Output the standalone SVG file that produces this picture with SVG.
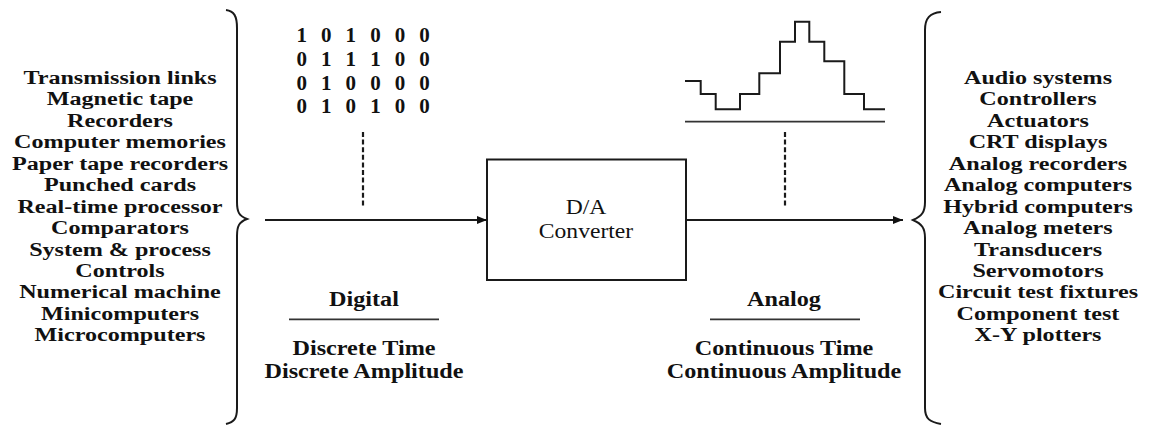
<svg xmlns="http://www.w3.org/2000/svg" width="1152" height="430" viewBox="0 0 1152 430">
  <style>
    .lbl { font-family: "Liberation Serif", "Times New Roman", serif; font-weight: bold; font-size: 19px; fill: #111; text-anchor: middle; }
    .cap { font-family: "Liberation Serif", "Times New Roman", serif; font-weight: bold; font-size: 20px; fill: #111; text-anchor: middle; }
    .reg { font-family: "Liberation Serif", "Times New Roman", serif; font-size: 20px; fill: #111; text-anchor: middle; }
    .bits { font-family: "Liberation Serif", "Times New Roman", serif; font-weight: bold; font-size: 21px; fill: #111; letter-spacing: 4.4px; }
    .ln { stroke: #1a1a1a; stroke-width: 2; fill: none; }
    .thin { stroke: #333; stroke-width: 1.8; fill: none; }
    .dash { stroke: #1a1a1a; stroke-width: 2.2; stroke-dasharray: 5 2.6; fill: none; }
  </style>
  <defs>
    <marker id="arrow" viewBox="0 0 10 8" refX="10" refY="4" markerWidth="11" markerHeight="8" markerUnits="userSpaceOnUse" orient="auto">
      <path d="M0,0 L10,4 L0,8 Z" fill="#111"/>
    </marker>
  </defs>
  <rect width="1152" height="430" fill="#fff"/>

  <!-- digital sources -->
  <g id="sources">
    <g transform="translate(120 0) scale(1.27 1)">
      <text class="lbl" x="0" y="84">Transmission links</text>
      <text class="lbl" x="0" y="105.5">Magnetic tape</text>
      <text class="lbl" x="0" y="126.9">Recorders</text>
      <text class="lbl" x="0" y="148.4">Computer memories</text>
      <text class="lbl" x="0" y="169.8">Paper tape recorders</text>
      <text class="lbl" x="0" y="191.3">Punched cards</text>
      <text class="lbl" x="0" y="212.7">Real-time processor</text>
      <text class="lbl" x="0" y="234.2">Comparators</text>
      <text class="lbl" x="0" y="255.6">System &amp; process</text>
      <text class="lbl" x="0" y="277.1">Controls</text>
      <text class="lbl" x="0" y="298.5">Numerical machine</text>
      <text class="lbl" x="0" y="320">Minicomputers</text>
      <text class="lbl" x="0" y="341.4">Microcomputers</text>
    </g>
    <path class="ln" d="M226,10 C234,11 237,16 237,28 L237,202 C237,212 239,216 247,219 C239,222 237,226 237,236 L237,408 C237,419 234,422 226,424"/>
  </g>

  <!-- digital word sample -->
  <g id="digital-code">
    <text class="bits" x="296.5" y="41.7">1 0 1 0 0 0</text>
    <text class="bits" x="296.5" y="65.6">0 1 1 1 0 0</text>
    <text class="bits" x="296.5" y="89.5">0 1 0 0 0 0</text>
    <text class="bits" x="296.5" y="113.4">0 1 0 1 0 0</text>
  </g>

  <!-- digital signal description -->
  <g id="digital-label">
    <g transform="translate(364 0) scale(1.21 1)">
      <text class="cap" x="0" y="306">Digital</text>
      <text class="cap" x="0" y="355">Discrete Time</text>
      <text class="cap" x="0" y="378">Discrete Amplitude</text>
    </g>
    <line class="thin" x1="289" y1="319.3" x2="439" y2="319.3"/>
  </g>

  <!-- converter block -->
  <g id="converter">
    <rect class="ln" x="487" y="159.5" width="199" height="120.5"/>
    <g transform="translate(586 0) scale(1.18 1)">
      <text class="reg" x="0" y="214.5">D/A</text>
      <text class="reg" x="0" y="238">Converter</text>
    </g>
  </g>

  <!-- staircase analog output -->
  <g id="analog-wave">
    <path class="ln" d="M685,81 H700.7 V94 H715.7 V109.3 H740 V94 H759.3 V73.3 H780 V41.7 H795 V21.7 H809.3 V41.7 H824.3 V61.3 H844.3 V94 H864 V109.3 H885"/>
    <line class="thin" x1="685" y1="121.7" x2="885" y2="121.7"/>
  </g>

  <!-- analog signal description -->
  <g id="analog-label">
    <g transform="translate(784 0) scale(1.21 1)">
      <text class="cap" x="0" y="306">Analog</text>
      <text class="cap" x="0" y="355">Continuous Time</text>
      <text class="cap" x="0" y="378">Continuous Amplitude</text>
    </g>
    <line class="thin" x1="710" y1="319.3" x2="860" y2="319.3"/>
  </g>

  <!-- analog destinations -->
  <g id="destinations">
    <g transform="translate(1038 0) scale(1.27 1)">
      <text class="lbl" x="0" y="84">Audio systems</text>
      <text class="lbl" x="0" y="105.5">Controllers</text>
      <text class="lbl" x="0" y="126.9">Actuators</text>
      <text class="lbl" x="0" y="148.4">CRT displays</text>
      <text class="lbl" x="0" y="169.8">Analog recorders</text>
      <text class="lbl" x="0" y="191.3">Analog computers</text>
      <text class="lbl" x="0" y="212.7">Hybrid computers</text>
      <text class="lbl" x="0" y="234.2">Analog meters</text>
      <text class="lbl" x="0" y="255.6">Transducers</text>
      <text class="lbl" x="0" y="277.1">Servomotors</text>
      <text class="lbl" x="0" y="298.5">Circuit test fixtures</text>
      <text class="lbl" x="0" y="320">Component test</text>
      <text class="lbl" x="0" y="341.4">X-Y plotters</text>
    </g>
    <path class="ln" d="M941,12 C930,13 925,18 925,30 L925,202 C925,212 922,216 913,220 C922,224 925,228 925,238 L925,408 C925,419 930,422 941,424"/>
  </g>

  <!-- connectors -->
  <g id="connectors">
    <line class="ln" x1="265" y1="220" x2="487" y2="220" marker-end="url(#arrow)"/>
    <line class="ln" x1="686" y1="220" x2="903" y2="220" marker-end="url(#arrow)"/>
    <line class="dash" x1="363" y1="132" x2="363" y2="208"/>
    <line class="dash" x1="785" y1="132" x2="785" y2="208"/>
  </g>
</svg>
